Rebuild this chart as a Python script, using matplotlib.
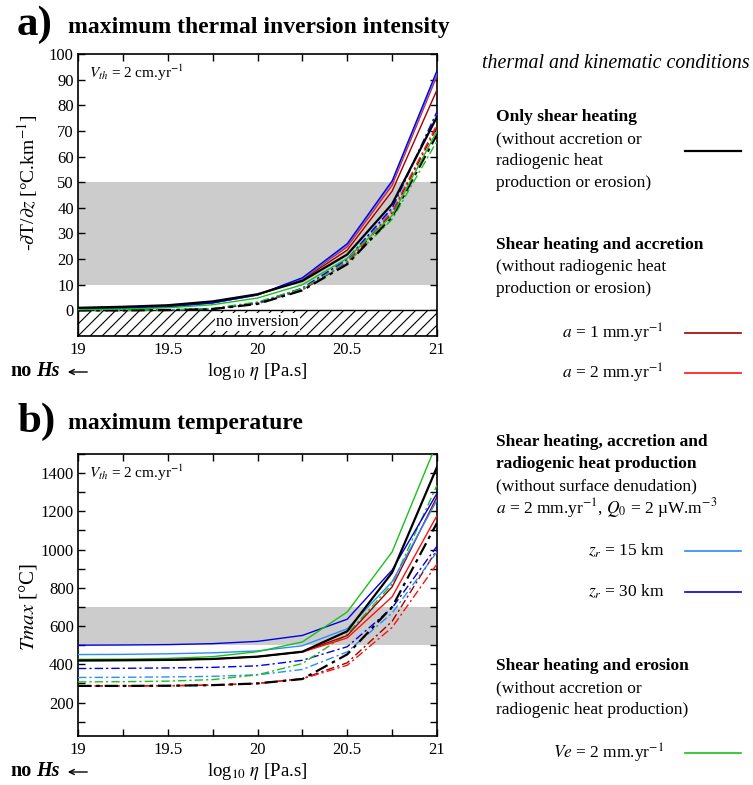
import matplotlib as mpl
mpl.use("Agg")
import matplotlib.pyplot as plt
import matplotlib.patches as patches
from matplotlib.ticker import MultipleLocator
import numpy as np

plt.rcParams['font.family'] = ['Liberation Serif', 'DejaVu Serif']
plt.rcParams['mathtext.fontset'] = 'stix'

# log10 viscosity of the shear zone
log_eta = [19, 19.25, 19.5, 19.75, 20, 20.25, 20.5, 20.75, 21]

# a) maximum thermal inversion intensity, -dT/dz [C/km]
inv_shear = [1.0, 1.4, 2.0, 3.5, 6.3, 11.5, 21.8, 41.5, 75.5]
inv_acc1 = [0.6, 0.9, 1.5, 3.0, 6.0, 12.0, 23.5, 46.5, 86.0]
inv_acc2 = [0.6, 0.9, 1.5, 3.0, 6.0, 12.3, 24.8, 48.8, 91.5]
inv_zr15 = [0.5, 0.8, 1.4, 2.9, 6.0, 12.4, 25.5, 50.0, 92.5]
inv_zr30 = [0.5, 0.8, 1.4, 2.9, 6.1, 12.7, 26.0, 50.5, 93.5]
inv_ero = [0.3, 0.5, 1.0, 2.2, 4.8, 10.0, 20.3, 37.0, 70.0]

inv_shear_dd = [0.0, 0.0, 0.1, 0.5, 2.5, 7.8, 18.0, 36.5, 68.5]
inv_acc1_dd = [0.0, 0.0, 0.1, 0.5, 2.6, 8.0, 18.5, 38.0, 71.5]
inv_acc2_dd = [0.0, 0.0, 0.1, 0.5, 2.7, 8.2, 19.0, 38.5, 72.5]
inv_zr15_dd = [0.0, 0.0, 0.1, 0.6, 2.8, 8.5, 19.5, 39.5, 77.0]
inv_zr30_dd = [0.0, 0.0, 0.1, 0.6, 2.9, 8.7, 20.0, 40.0, 77.5]
inv_ero_dd = [0.0, 0.0, 0.2, 0.8, 3.3, 8.5, 18.5, 35.5, 66.0]

# b) maximum temperature [C]
tmax_shear = [420, 421, 423, 428, 440, 466, 573, 880, 1432]
tmax_acc1 = [420, 421, 423, 428, 440, 466, 550, 805, 1276]
tmax_acc2 = [420, 421, 423, 428, 440, 464, 538, 753, 1178]
tmax_zr15 = [451, 452, 455, 460, 470, 497, 586, 832, 1259]
tmax_zr30 = [500, 501, 503, 508, 520, 551, 636, 893, 1294]
tmax_ero = [426, 427, 431, 440, 466, 517, 674, 988, 1560]

tmax_shear_dd = [287, 287, 288, 291, 300, 323, 452, 700, 1140]
tmax_acc1_dd = [287, 287, 288, 291, 300, 325, 408, 625, 1000]
tmax_acc2_dd = [287, 287, 288, 291, 300, 324, 395, 593, 925]
tmax_zr15_dd = [331, 332, 334, 337, 345, 373, 465, 668, 988]
tmax_zr30_dd = [378, 379, 381, 384, 392, 421, 492, 695, 1018]
tmax_ero_dd = [308, 309, 312, 320, 345, 404, 558, 820, 1337]

c_shear = 'black'
c_acc1 = '#a00000'
c_acc2 = '#ff1010'
c_zr15 = '#2a8cff'
c_zr30 = '#0000e6'
c_ero = '#1cbf1c'

dd = (0, (6, 2.2, 1.6, 2.2))

fig = plt.figure(figsize=(7.53, 7.85), dpi=100)
W, H = 753, 785


def px_axes(left, top, right, bottom):
    return fig.add_axes([left / W, 1 - bottom / H, (right - left) / W, (bottom - top) / H])


def draw_series(ax, solid, dashed):
    colors = [c_acc1, c_acc2, c_zr15, c_zr30, c_ero, c_shear]
    for vals, c in zip(dashed, colors):
        lw = 1.6 if c == c_shear else 1.0
        ax.plot(log_eta, vals, color=c, lw=lw, linestyle=dd, zorder=3)
    for vals, c in zip(solid, colors):
        lw = 1.6 if c == c_shear else 1.0
        ax.plot(log_eta, vals, color=c, lw=lw, zorder=4)


def style_axes(ax, ylab_y):
    ax.set_xlim(19, 21)
    ax.xaxis.set_minor_locator(MultipleLocator(0.25))
    ax.set_xticks([19, 19.5, 20, 20.5, 21])
    ax.set_xticklabels(['19', '19.5', '20', '20.5', '21'])
    ax.tick_params(which='both', direction='in', top=True, right=True,
                   labelsize=12, width=1.0, length=5)
    ax.tick_params(axis='x', pad=4)
    ax.tick_params(axis='y', pad=3)
    for s in ax.spines.values():
        s.set_linewidth(1.2)
    fig.text(257.5 / W, 1 - ylab_y / H, r'log$_{10}$ $\eta$ [Pa.s]', fontsize=13.5,
             ha='center', va='center')


# ---------- a) ----------
ax1 = px_axes(78, 54, 437, 336)
ax1.set_ylim(-10, 100)
ax1.set_yticks(range(0, 101, 10))
ax1.axhspan(10, 50, color='#cccccc', lw=0, zorder=1)

# hatched "no inversion" zone
ax1.add_patch(patches.Rectangle((19, -10), 2, 10, facecolor='white',
                                edgecolor='black', lw=1.0, zorder=2))
bb = ax1.get_window_extent()
slope = (110 / bb.height) / (2 / bb.width)
step = 12 * 2 / bb.width
clip = patches.Rectangle((19, -10), 2, 10, transform=ax1.transData)
for x0 in np.arange(19 - 0.2, 21.05, step):
    ln, = ax1.plot([x0, x0 + 10 / slope], [-10, 0], color='black', lw=0.8, zorder=2)
    ln.set_clip_path(clip)
ax1.text(20.0, -4.6, 'no inversion', ha='center', va='center', fontsize=12, zorder=3,
         bbox=dict(facecolor='white', edgecolor='none', pad=1.0))

draw_series(ax1,
            [inv_acc1, inv_acc2, inv_zr15, inv_zr30, inv_ero, inv_shear],
            [inv_acc1_dd, inv_acc2_dd, inv_zr15_dd, inv_zr30_dd, inv_ero_dd, inv_shear_dd])
style_axes(ax1, 371)
ax1.text(19.06, 92.5, r'$V_{th}$ = 2 cm.yr$^{-1}$', fontsize=11, va='center')
fig.text(28 / W, 1 - 183 / H, r'-$\partial$T/$\partial z$ [°C.km$^{-1}$]', rotation=90,
         ha='center', va='center', fontsize=14)

# ---------- b) ----------
ax2 = px_axes(78, 454, 437, 736)
ax2.set_ylim(25, 1500)
ax2.set_yticks(range(200, 1401, 200))
ax2.yaxis.set_minor_locator(MultipleLocator(100))
ax2.axhspan(500, 700, color='#cccccc', lw=0, zorder=1)
draw_series(ax2,
            [tmax_acc1, tmax_acc2, tmax_zr15, tmax_zr30, tmax_ero, tmax_shear],
            [tmax_acc1_dd, tmax_acc2_dd, tmax_zr15_dd, tmax_zr30_dd, tmax_ero_dd, tmax_shear_dd])
style_axes(ax2, 771)
ax2.text(19.06, 1400, r'$V_{th}$ = 2 cm.yr$^{-1}$', fontsize=11, va='center')
fig.text(28 / W, 1 - 607 / H, r'$Tmax$ [°C]', rotation=90,
         ha='center', va='center', fontsize=15)

# panel titles
for ytop, letter, title in [(25, 'a)', 'maximum thermal inversion intensity'),
                            (422, 'b)', 'maximum temperature')]:
    fig.text(17 / W, 1 - ytop / H, letter, fontsize=31, fontweight='bold', va='center')
    fig.text(68 / W, 1 - (ytop + 2) / H, title, fontsize=17, fontweight='bold', va='center')

# "no Hs" arrows under each x axis
for yc in (371, 771):
    fig.text(10 / W, 1 - yc / H, 'no', fontsize=14.5, fontweight='bold', va='center')
    fig.text(36 / W, 1 - yc / H, 'Hs', fontsize=14.5, fontweight='bold', style='italic',
             va='center')
    fig.add_artist(patches.FancyArrowPatch((90 / W, 1 - (yc + 1) / H), (65 / W, 1 - (yc + 1) / H),
                                           transform=fig.transFigure, arrowstyle='->',
                                           mutation_scale=9, lw=1.0, color='black'))

# legend column
fs = 12.5
fig.text(482 / W, 1 - 63 / H, 'thermal and kinematic conditions', fontsize=14.3,
         style='italic', va='center')


def block(y0, lines):
    for i, (txt, bold) in enumerate(lines):
        fig.text(496 / W, 1 - (y0 + 22 * i) / H, txt, fontsize=fs,
                 fontweight='bold' if bold else 'normal', va='center')


def key(y, label, color, lw=1.2):
    fig.text(664 / W, 1 - y / H, label, fontsize=fs, ha='right', va='center')
    fig.add_artist(plt.Line2D([685 / W, 741 / W], [1 - y / H, 1 - y / H],
                              color=color, lw=lw, transform=fig.transFigure))


block(117, [('Only shear heating', True), ('(without accretion or', False),
            ('radiogenic heat', False), ('production or erosion)', False)])
fig.add_artist(plt.Line2D([685 / W, 741 / W], [1 - 151 / H, 1 - 151 / H],
                          color=c_shear, lw=1.6, transform=fig.transFigure))
block(245, [('Shear heating and accretion', True), ('(without radiogenic heat', False),
            ('production or erosion)', False)])
key(333, r'$a$ = 1 mm.yr$^{-1}$', c_acc1)
key(373, r'$a$ = 2 mm.yr$^{-1}$', c_acc2)
block(442, [('Shear heating, accretion and', True), ('radiogenic heat production', True),
            ('(without surface denudation)', False),
            (r'$a$ = 2 mm.yr$^{-1}$, $Q_0$ = 2 µW.m$^{-3}$', False)])
key(551, r'$z_r$ = 15 km', c_zr15)
key(592, r'$z_r$ = 30 km', c_zr30)
block(666, [('Shear heating and erosion', True), ('(without accretion or', False),
            ('radiogenic heat production)', False)])
key(753, r'$Ve$ = 2 mm.yr$^{-1}$', c_ero)

fig.savefig('out.png', dpi=100)
